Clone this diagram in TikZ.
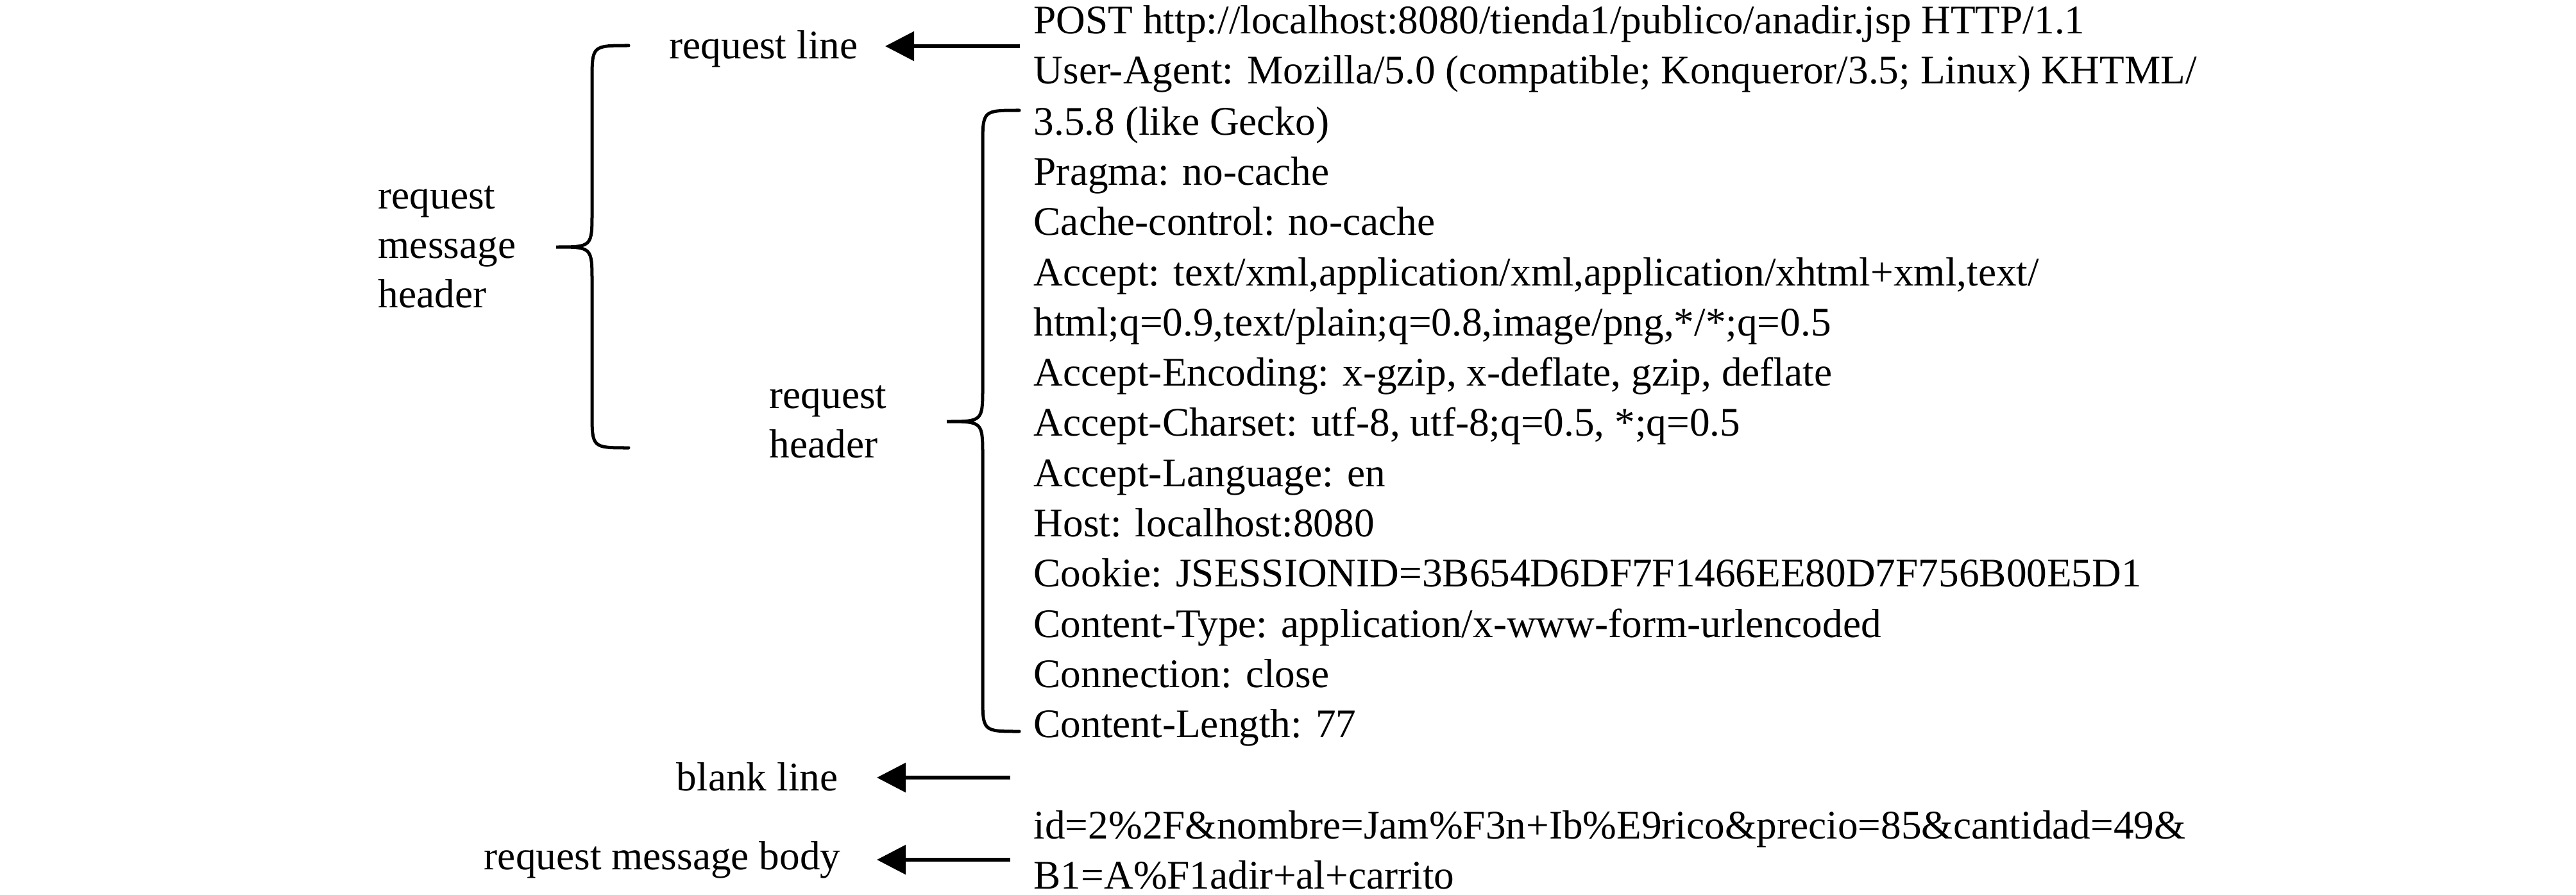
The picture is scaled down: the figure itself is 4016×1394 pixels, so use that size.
\documentclass[tikz,border=0pt]{standalone}
\usepackage{fontspec}
\setmainfont{Liberation Serif}
\usetikzlibrary{arrows.meta,calc}
\begin{document}
\begin{tikzpicture}[x=0.01cm,y=-0.01cm,
  txt/.style={inner sep=0pt, anchor=base west, font=\fontsize{18}{22}\selectfont},
  lbl/.style={inner sep=0pt, anchor=base east, font=\fontsize{18}{22}\selectfont},
  lbll/.style={inner sep=0pt, anchor=base west, font=\fontsize{18}{22}\selectfont},
  arr/.style={line width=0.06cm, -{Triangle[length=0.45cm,width=0.45cm]}},
  bracepath/.style={line width=0.05cm, line cap=round}]
\useasboundingbox (0,0) rectangle (4016,1394);

% right-hand message text
\node[txt] (l0)  at (1611,53)   {POST http://localhost:8080/tienda1/publico/anadir.jsp HTTP/1.1};
\node[txt] (l1)  at (1611,131)  {User-Agent: Mozilla/5.0 (compatible; Konqueror/3.5; Linux) KHTML/};
\node[txt] (l2)  at (1611,210)  {3.5.8 (like Gecko)};
\node[txt] (l3)  at (1611,288)  {Pragma: no-cache};
\node[txt] (l4)  at (1611,366)  {Cache-control: no-cache};
\node[txt] (l5)  at (1611,445)  {Accept: text/xml,application/xml,application/xhtml+xml,text/};
\node[txt] (l6)  at (1611,523)  {html;q=0.9,text/plain;q=0.8,image/png,*/*;q=0.5};
\node[txt] (l7)  at (1611,601)  {Accept-Encoding: x-gzip, x-deflate, gzip, deflate};
\node[txt] (l8)  at (1611,679)  {Accept-Charset: utf-8, utf-8;q=0.5, *;q=0.5};
\node[txt] (l9)  at (1611,758)  {Accept-Language: en};
\node[txt] (l10) at (1611,836)  {Host: localhost:8080};
\node[txt] (l11) at (1611,914)  {Cookie: JSESSIONID=3B654D6DF7F1466EE80D7F756B00E5D1};
\node[txt] (l12) at (1611,993)  {Content-Type: application/x-www-form-urlencoded};
\node[txt] (l13) at (1611,1071) {Connection: close};
\node[txt] (l14) at (1611,1149) {Content-Length: 77};
\node[txt] (l16) at (1611,1307) {id=2\%2F\&nombre=Jam\%F3n+Ib\%E9rico\&precio=85\&cantidad=49\&};
\node[txt] (l17) at (1611,1385) {B1=A\%F1adir+al+carrito};

% left labels
\node[lbl] (rl) at (1338,92)   {request line};
\node[lbl] (bl) at (1307,1232) {blank line};
\node[lbl] (mb) at (1311,1355) {request message body};
\node[lbll] (mh1) at (589,325) {request};
\node[lbll] (mh2) at (589,402) {message};
\node[lbll] (mh3) at (589,479) {header};
\node[lbll] (rh1) at (1199,636) {request};
\node[lbll] (rh2) at (1199,713) {header};

% arrows
\coordinate (t1) at (1590,72);
\coordinate (t2) at (1575,1212);
\coordinate (t3) at (1575,1340);
\draw[arr] (t1) -- ($(t1 -| rl.east)+(42,0)$);
\draw[arr] (t2) -- ($(t2 -| bl.east)+(60,0)$);
\draw[arr] (t3) -- ($(t3 -| mb.east)+(56,0)$);

% brace: request message header
\draw[bracepath] (980,71) .. controls (923,71) .. (923,126)
  -- (923,330) .. controls (923,385) .. (867,385)
  .. controls (923,385) .. (923,440)
  -- (923,643) .. controls (923,698) .. (980,698);

% brace: request header
\draw[bracepath] (1589,172) .. controls (1532,172) .. (1532,227)
  -- (1532,602) .. controls (1532,657) .. (1476,657)
  .. controls (1532,657) .. (1532,712)
  -- (1532,1085) .. controls (1532,1140) .. (1589,1140);
\end{tikzpicture}
\end{document}
